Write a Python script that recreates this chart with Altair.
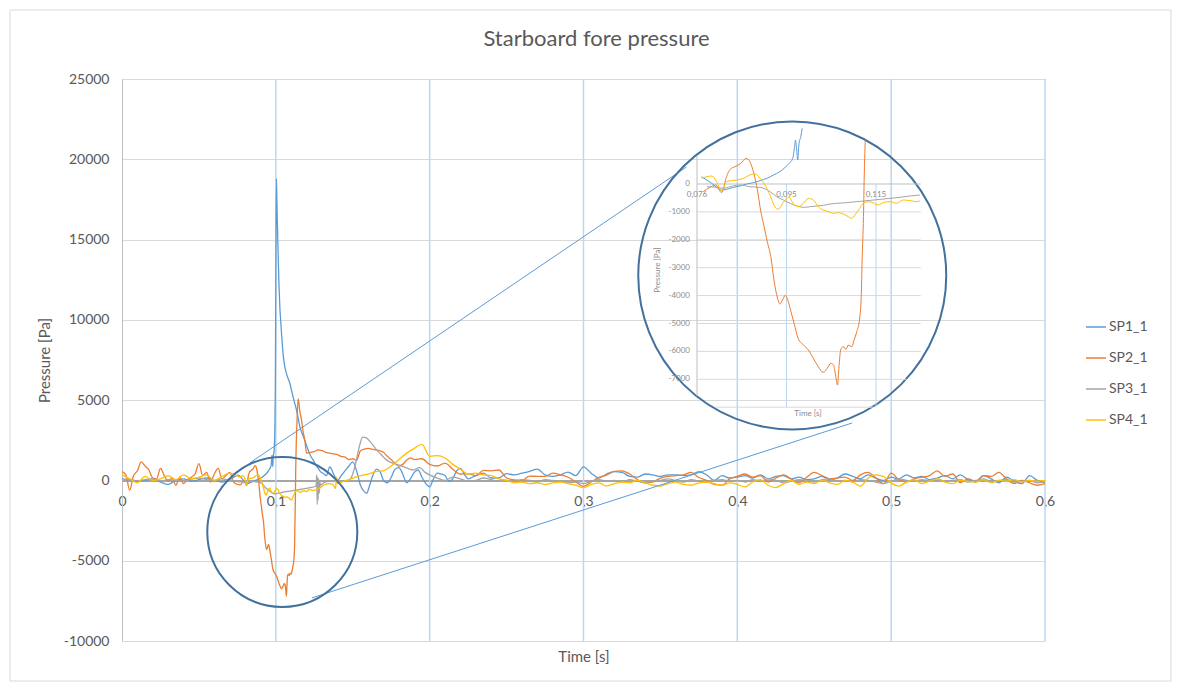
import altair as alt
import pandas as pd

FONT = "Lato"
TEXT = "#595959"

SERIES = ["SP1_1", "SP2_1", "SP3_1", "SP4_1"]
COLORS = ["#5B9BD5", "#ED7D31", "#A5A5A5", "#FFC000"]

# (time [s], pressure [Pa])
SP1 = [
    (0.000, 100), (0.005, 50), (0.010, -50), (0.015, 0), (0.020, 100), (0.025, -100),
    (0.030, -250), (0.035, 0), (0.040, 100), (0.045, -50), (0.050, 50), (0.055, 150),
    (0.060, 0), (0.065, -100), (0.070, 50),
    (0.0754, 323), (0.0765, 263), (0.0777, 143), (0.0788, 24), (0.0799, -120), (0.0810, -215),
    (0.0821, -191), (0.0836, -120), (0.0851, -72), (0.0866, 0), (0.0881, 48), (0.0896, 120),
    (0.0911, 203), (0.0926, 323), (0.0940, 442), (0.0952, 597), (0.0961, 741), (0.0969, 920),
    (0.0973, 1338), (0.0975, 1577), (0.0978, 1159), (0.0980, 860), (0.0983, 1458),
    (0.0987, 1697), (0.0990, 1996),
    (0.0997, 6000), (0.1001, 15000), (0.1004, 18800), (0.1007, 17400), (0.1010, 16000),
    (0.1015, 14100), (0.1020, 12300), (0.1026, 10800), (0.1032, 9900), (0.1037, 9150),
    (0.1042, 8500), (0.1047, 7900), (0.1058, 7100), (0.1069, 6650), (0.1080, 6350),
    (0.1091, 6050), (0.1102, 5600), (0.1112, 5200), (0.1123, 4800), (0.1134, 4400),
    (0.1145, 3900), (0.1156, 3350), (0.1172, 2900), (0.1188, 2500), (0.1210, 1900),
    (0.1225, 1550), (0.1242, 1280), (0.1258, 1000), (0.1275, 760), (0.1290, 550), (0.1307, 450),
    (0.1330, 300), (0.1350, 850), (0.1380, 300), (0.1400, 0), (0.1425, 300), (0.1450, 600),
    (0.1475, 900), (0.1500, 1150), (0.1525, 600), (0.1550, -300), (0.1575, -700), (0.1590, -800),
    (0.1610, -300), (0.1630, 300), (0.1655, 700), (0.1680, 500), (0.1700, 0), (0.1725, -150),
    (0.1750, 200), (0.1775, 700), (0.1800, 800), (0.1825, 400), (0.1850, -150), (0.1875, 100),
    (0.1900, 500), (0.1925, 650), (0.1950, 200), (0.1975, -200), (0.2000, -400), (0.2025, 100),
    (0.2050, 450), (0.2075, 400), (0.2100, 300), (0.2125, -50), (0.2150, 100), (0.2175, 600),
    (0.2200, 750), (0.2225, 400),
    (0.225, 100), (0.230, 300), (0.235, 450), (0.240, 150), (0.245, 150), (0.250, 420),
    (0.255, 350), (0.260, 450), (0.265, 560), (0.270, 700), (0.275, 350), (0.280, 250),
    (0.285, 350), (0.290, 520), (0.295, 300), (0.300, 850), (0.305, 450), (0.310, 150),
    (0.315, 400), (0.320, 550), (0.325, 500), (0.330, 250), (0.335, 200), (0.340, 400),
    (0.345, 350), (0.350, 250), (0.355, 350), (0.360, 350), (0.365, 300), (0.370, 350),
    (0.375, 550), (0.380, 350), (0.385, 0), (0.390, 300), (0.395, 150),
    (0.400, 200), (0.405, 300), (0.410, 150), (0.415, 350), (0.420, 100), (0.425, 250),
    (0.430, 300), (0.435, 100), (0.440, 200), (0.445, 50), (0.450, 100), (0.455, 250),
    (0.460, 50), (0.465, 150), (0.470, 400), (0.475, 250), (0.480, 100), (0.485, 350),
    (0.490, 150), (0.495, 0), (0.500, 200), (0.505, 100), (0.510, 350), (0.515, 150),
    (0.520, 250), (0.525, 50), (0.530, 150), (0.535, 300), (0.540, 100), (0.545, 350),
    (0.550, 50), (0.555, -100), (0.560, 300), (0.565, 100), (0.570, -150), (0.575, 200),
    (0.580, -50), (0.585, -200), (0.590, 300), (0.595, 0), (0.600, -150),
]

SP2 = [
    (0.0000, 550), (0.0025, 350), (0.0050, -600), (0.0075, 300), (0.0100, 600), (0.0125, 1150),
    (0.0150, 900), (0.0175, 650), (0.0200, 150), (0.0225, 100), (0.0250, 750), (0.0275, 300),
    (0.0300, -50), (0.0325, 150), (0.0350, -300), (0.0375, 200), (0.0400, -200), (0.0425, 50),
    (0.0450, 200), (0.0475, 400), (0.0500, 1050), (0.0525, 300), (0.0550, 500), (0.0575, -100),
    (0.0600, 400), (0.0625, 750), (0.0650, 100), (0.0675, 300), (0.0700, 500), (0.0725, -100),
    (0.0750, -250),
    (0.0769, -275), (0.0784, -119), (0.0797, -36), (0.0810, -311), (0.0821, 263), (0.0829, 526),
    (0.0840, 621), (0.0853, 741), (0.0865, 920), (0.0873, 801), (0.0882, 382), (0.0890, -215),
    (0.0897, -932), (0.0905, -1530), (0.0912, -2067), (0.0920, -2605), (0.0927, -3442),
    (0.0935, -4099), (0.0940, -4302), (0.0946, -4159), (0.0952, -3991), (0.0958, -4159),
    (0.0964, -4517), (0.0972, -4995), (0.0981, -5533), (0.0993, -5772), (0.1004, -5951),
    (0.1015, -6250), (0.1026, -6549), (0.1037, -6752), (0.1046, -6608), (0.1054, -6429),
    (0.1060, -6489), (0.1064, -6788), (0.1069, -7206), (0.1072, -6608), (0.1076, -5951),
    (0.1082, -5832), (0.1088, -5927), (0.1093, -5772), (0.1101, -5832), (0.1106, -5593),
    (0.1112, -5294), (0.1118, -4876), (0.1122, -4039), (0.1124, -2725), (0.1127, -1171),
    (0.1129, 502), (0.1131, 1577),
    (0.1137, 3500), (0.1145, 5100), (0.1156, 4300), (0.1167, 3770), (0.1178, 3000),
    (0.1188, 2520), (0.1200, 1700), (0.1225, 1750), (0.1250, 1800), (0.1275, 1900),
    (0.1300, 1850), (0.1325, 1750), (0.1350, 1700), (0.1375, 1650), (0.1400, 1600),
    (0.1425, 1500), (0.1450, 1450), (0.1475, 1300), (0.1500, 1350), (0.1525, 1250),
    (0.1550, 1850), (0.1575, 1950), (0.1600, 2000), (0.1625, 1950), (0.1650, 1900),
    (0.1675, 1850), (0.1700, 1750), (0.1725, 1500), (0.1750, 1300), (0.1775, 1050),
    (0.1800, 900), (0.1825, 1000), (0.1850, 1250), (0.1875, 1400), (0.1900, 1300),
    (0.195, 1350), (0.200, 1000), (0.205, 900), (0.210, 1080), (0.215, 700), (0.220, 400),
    (0.225, 420), (0.230, 300), (0.235, 620), (0.240, 600), (0.245, 650), (0.250, 150),
    (0.255, 30), (0.260, 0), (0.265, 270), (0.270, 250), (0.275, 250), (0.280, 450),
    (0.285, 350), (0.290, 200), (0.295, -100), (0.300, -370), (0.305, -100), (0.310, 190),
    (0.315, 330), (0.320, 560), (0.325, 600), (0.330, 400), (0.335, 50), (0.340, -150),
    (0.345, -100), (0.350, 150), (0.355, 250), (0.360, 300), (0.365, 350), (0.370, 500),
    (0.375, 180), (0.380, 0), (0.385, -250), (0.390, -300), (0.395, 100),
    (0.400, 250), (0.405, 400), (0.410, 200), (0.415, 300), (0.420, -100), (0.425, 150),
    (0.430, 350), (0.435, 100), (0.440, -150), (0.445, 200), (0.450, 500), (0.455, 300),
    (0.460, 100), (0.465, 150), (0.470, 200), (0.475, 0), (0.480, 350), (0.485, 500),
    (0.490, 150), (0.495, -200), (0.500, 450), (0.505, 50), (0.510, -100), (0.515, 100),
    (0.520, 200), (0.525, 300), (0.530, 600), (0.535, 250), (0.540, 400), (0.545, -150),
    (0.550, 100), (0.555, -50), (0.560, 300), (0.565, 250), (0.570, 500), (0.575, 100),
    (0.580, -200), (0.585, 0), (0.590, -150), (0.595, -300), (0.600, -200),
]

SP3 = [
    (0.000, 0), (0.005, 80), (0.010, -30), (0.015, 50), (0.020, 100), (0.025, -50),
    (0.030, 50), (0.035, 0), (0.040, -60), (0.045, 80), (0.050, 150), (0.055, 50),
    (0.060, -50), (0.065, 100), (0.070, 0),
    (0.0754, -72), (0.0777, -96), (0.0799, -120), (0.0814, -155), (0.0829, -96), (0.0851, -36),
    (0.0873, -96), (0.0896, -120), (0.0918, -275), (0.0933, -454), (0.0948, -574),
    (0.0963, -693), (0.0978, -789), (0.0993, -837), (0.1008, -813), (0.1022, -789),
    (0.1037, -765), (0.1052, -717), (0.1067, -693), (0.1089, -669), (0.1112, -633),
    (0.1127, -610), (0.1142, -586), (0.1164, -550), (0.1186, -514), (0.1209, -478),
    (0.1231, -430), (0.1253, -394),
    (0.1262, -300), (0.1266, 350), (0.1269, -1500), (0.1272, 200), (0.1275, -1200),
    (0.1278, 100), (0.1282, -800), (0.1286, -100), (0.1290, -300), (0.1310, -150),
    (0.1350, -50), (0.1400, 0), (0.1450, -50), (0.1480, 50), (0.1500, 400), (0.1520, 1100),
    (0.1540, 2000), (0.1565, 2700), (0.1589, 2650), (0.1610, 2450), (0.1632, 2200),
    (0.1655, 1900), (0.1675, 1700), (0.1700, 1450), (0.1719, 1280), (0.1762, 1070),
    (0.1800, 950), (0.1848, 780), (0.1892, 650), (0.1935, 800), (0.1970, 500), (0.2000, 350),
    (0.205, 150), (0.210, 0), (0.215, 200), (0.220, 100), (0.225, -50), (0.230, 0),
    (0.235, 150), (0.240, 50), (0.245, -50), (0.250, 0), (0.255, -80), (0.260, 50),
    (0.265, 0), (0.270, -100), (0.275, 50), (0.280, 0), (0.285, -50), (0.290, -150),
    (0.295, -100), (0.300, -200), (0.305, -50), (0.310, 50), (0.315, -50), (0.320, 0),
    (0.325, -100), (0.330, 50), (0.335, -50), (0.340, -150), (0.345, -50), (0.350, 0),
    (0.355, 100), (0.360, 0), (0.365, -100), (0.370, 50), (0.375, -50), (0.380, -100),
    (0.385, 0), (0.390, 50), (0.395, -50), (0.400, 0), (0.405, -100), (0.410, 50),
    (0.415, -50), (0.420, 100), (0.425, 0), (0.430, -150), (0.435, -50), (0.440, 50),
    (0.445, 0), (0.450, -100), (0.455, 50), (0.460, 100), (0.465, -50), (0.470, 0),
    (0.475, -100), (0.480, 50), (0.485, 0), (0.490, -100), (0.495, -200), (0.500, -50),
    (0.505, 100), (0.510, 0), (0.515, -50), (0.520, 50), (0.525, 0), (0.530, 100),
    (0.535, -50), (0.540, 0), (0.545, 50), (0.550, -100), (0.555, 0), (0.560, 100),
    (0.565, -50), (0.570, 0), (0.575, 50), (0.580, -100), (0.585, -50), (0.590, 0),
    (0.595, -150), (0.600, -100),
]

SP4 = [
    (0.000, 350), (0.005, 100), (0.010, -150), (0.015, 250), (0.020, 0), (0.025, 100),
    (0.030, 300), (0.035, 50), (0.040, 350), (0.045, 100), (0.050, 200), (0.055, 350),
    (0.060, 0), (0.065, 250), (0.070, 450),
    (0.0754, 263), (0.0765, 203), (0.0777, 263), (0.0788, 287), (0.0799, 84), (0.0810, -275),
    (0.0821, 84), (0.0832, 120), (0.0844, 143), (0.0859, 203), (0.0873, 323), (0.0885, 359),
    (0.0896, 203), (0.0907, -36), (0.0918, -394), (0.0929, -813), (0.0937, -908),
    (0.0944, -753), (0.0952, -574), (0.0961, -478), (0.0970, -693), (0.0981, -813),
    (0.0993, -693), (0.1004, -514), (0.1015, -574), (0.1026, -813), (0.1037, -932),
    (0.1048, -992), (0.1060, -1052), (0.1071, -1028), (0.1082, -1076), (0.1093, -1171),
    (0.1101, -1231), (0.1108, -1111), (0.1116, -932), (0.1127, -693), (0.1138, -633),
    (0.1149, -680), (0.1160, -753), (0.1171, -669), (0.1186, -633), (0.1201, -693),
    (0.1216, -574), (0.1231, -597), (0.1246, -633), (0.1253, -600),
    (0.1280, -500), (0.1310, -300), (0.1340, -200), (0.1370, -250), (0.1388, -500),
    (0.1394, 200), (0.1400, -200), (0.1430, -100), (0.1460, 0), (0.1500, 150), (0.1550, 300),
    (0.1600, 400), (0.1650, 550), (0.1700, 600), (0.1750, 900), (0.1800, 1300),
    (0.1850, 1700), (0.1900, 2000), (0.1950, 2250), (0.2000, 1500),
    (0.205, 1550), (0.210, 1400), (0.215, 1000), (0.220, 700), (0.225, 400), (0.230, 450),
    (0.235, 350), (0.240, 300), (0.245, 100), (0.250, 0), (0.255, -150), (0.260, -100),
    (0.265, -200), (0.270, -150), (0.275, -250), (0.280, -150), (0.285, -100), (0.290, -200),
    (0.295, -300), (0.300, -450), (0.305, -250), (0.310, -150), (0.315, -350), (0.320, -200),
    (0.325, -100), (0.330, -150), (0.335, 0), (0.340, -150), (0.345, -300), (0.350, -350),
    (0.355, -200), (0.360, -100), (0.365, -250), (0.370, -300), (0.375, -150), (0.380, -100),
    (0.385, -200), (0.390, -300), (0.395, -150),
    (0.400, -250), (0.405, -400), (0.410, -100), (0.415, 50), (0.420, -300), (0.425, -450),
    (0.430, -200), (0.435, 0), (0.440, -250), (0.445, -100), (0.450, -200), (0.455, 0),
    (0.460, -150), (0.465, -250), (0.470, 0), (0.475, -100), (0.480, -350), (0.485, 150),
    (0.490, 350), (0.495, 250), (0.500, -150), (0.505, -350), (0.510, -100), (0.515, 50),
    (0.520, -200), (0.525, -50), (0.530, 100), (0.535, -100), (0.540, -200), (0.545, 0),
    (0.550, -50), (0.555, -100), (0.560, 50), (0.565, -150), (0.570, 0), (0.575, -50),
    (0.580, 50), (0.585, -100), (0.590, 0), (0.595, -50), (0.600, 0),
]

X_TICKS = [0, 0.1, 0.2, 0.3, 0.4, 0.5, 0.6]
Y_TICKS = [-10000, -5000, 0, 5000, 10000, 15000, 20000, 25000]

# zoom circles (centre time, centre pressure, diameter px) and connector lines
CIRCLES = [(0.1042, -3207, 150), (0.4357, 12765, 308)]
CONNECTORS = [((0.0831, 1090), (0.3669, 19522)), ((0.1234, -7317), (0.4747, 3580))]

# inset (magnified) chart
INSET_X_DOMAIN = [0.0755, 0.1255]
INSET_Y_DOMAIN = [-8000, 1000]
INSET_X_RANGE = [575, 798.75]
INSET_Y_RANGE = [328.2, 77.1]
INSET_END = {"SP1_1": 0.0990, "SP2_1": 0.1131, "SP3_1": 0.1255, "SP4_1": 0.1255}
INSET_X_TICKS = [0.0755, 0.0955, 0.1155]
INSET_X_LABELS = ["0,076", "0,095", "0,115"]
INSET_Y_TICKS = [0, -1000, -2000, -3000, -4000, -5000, -6000, -7000]
INSET_HGRID = [(-1000, 0.0755, 0.1255), (-2000, 0.0755, 0.1255), (-3000, 0.0755, 0.1255),
               (-4000, 0.0755, 0.1255), (-5000, 0.0755, 0.1255), (-6000, 0.0755, 0.1255),
               (-7000, 0.0755, 0.1223), (-8000, 0.0795, 0.1150)]
INSET_TITLES = [("Pressure [Pa]", 0.0668, -3082, 270), ("Time [s]", 0.1003, -8244, 0)]

# ---------------------------------------------------------------- data frames
rows = []
for name, pts in zip(SERIES, [SP1, SP2, SP3, SP4]):
    for t, p in pts:
        rows.append({"series": name, "t": t, "p": p})
df = pd.DataFrame(rows)
inset_df = df[(df.t >= INSET_X_DOMAIN[0]) & (df.t <= df.series.map(INSET_END))]

vgrid_df = pd.DataFrame({"t": X_TICKS[1:], "p": Y_TICKS[0], "p2": Y_TICKS[-1]})
circ_df = pd.DataFrame(CIRCLES, columns=["t", "p", "d"])
circ_df["s"] = circ_df["d"] ** 2
conn_df = pd.DataFrame([{"t": a[0], "p": a[1], "t2": b[0], "p2": b[1]} for a, b in CONNECTORS])

ihg_df = pd.DataFrame(INSET_HGRID, columns=["p", "t", "t2"])
ivg_df = pd.DataFrame({"t": INSET_X_TICKS[1:], "p": INSET_Y_DOMAIN[0], "p2": 0})
iax_df = pd.DataFrame([{"t": INSET_X_DOMAIN[0], "p": -7600, "p2": INSET_Y_DOMAIN[1]}])
izero_df = pd.DataFrame([{"t": INSET_X_DOMAIN[0], "t2": INSET_X_DOMAIN[1], "p": 0}])
ixl_df = pd.DataFrame({"t": INSET_X_TICKS, "p": 0, "label": INSET_X_LABELS})
iyl_df = pd.DataFrame({"t": INSET_X_DOMAIN[0], "p": INSET_Y_TICKS,
                       "label": [str(v) for v in INSET_Y_TICKS]})
ititle_df = pd.DataFrame(INSET_TITLES, columns=["label", "t", "p", "angle"])

# ---------------------------------------------------------------- main scales
x_axis = alt.Axis(values=X_TICKS, labelExpr="replace(format(datum.value, '.1~f'), '.', ',')",
                  offset=-160.57, grid=False, ticks=False, labelFlush=False,
                  domainColor="#A6A6A6", domainWidth=2, labelPadding=14,
                  labelFontSize=14, labelColor=TEXT, labelFont=FONT,
                  title="Time [s]", titleFont=FONT, titleFontSize=15, titleColor=TEXT,
                  titleFontWeight="normal", titleY=176, titleBaseline="middle")
y_axis = alt.Axis(values=Y_TICKS, labelExpr="'' + datum.value", grid=True,
                  gridColor="#D9D9D9", gridWidth=1,
                  ticks=False, domainColor="#BFBFBF", labelPadding=13,
                  labelFontSize=14, labelColor=TEXT, labelFont=FONT,
                  title="Pressure [Pa]", titleFont=FONT, titleFontSize=15, titleColor=TEXT,
                  titleFontWeight="normal", titleX=-78, titleY=281, titleBaseline="middle")
X = alt.X("t:Q", scale=alt.Scale(domain=[0, 0.6], nice=False, zero=False), axis=x_axis)
Y = alt.Y("p:Q", scale=alt.Scale(domain=[-10000, 25000], nice=False, zero=False), axis=y_axis)
color = alt.Color("series:N", scale=alt.Scale(domain=SERIES, range=COLORS),
                  legend=alt.Legend(orient="none", legendX=963, legendY=237, title=None,
                                    symbolType="stroke", symbolSize=400, symbolStrokeWidth=1.5,
                                    labelFontSize=14, labelColor=TEXT, labelFont=FONT,
                                    rowPadding=13, labelOffset=2))

vgrid = alt.Chart(vgrid_df).mark_rule(color="#BDD7EE", strokeWidth=1.5).encode(
    x=X, y=Y, y2="p2:Q")
lines = alt.Chart(df).mark_line(strokeWidth=1.3, interpolate="monotone").encode(
    x=X, y=Y, color=color, detail="series:N")
circles = alt.Chart(circ_df).mark_point(shape="circle", filled=False, stroke="#41719C",
                                        strokeWidth=2, opacity=1).encode(
    x=X, y=Y, size=alt.Size("s:Q", scale=None, legend=None))
connectors = alt.Chart(conn_df).mark_rule(color="#5B9BD5", strokeWidth=1).encode(
    x=X, y=Y, x2="t2:Q", y2="p2:Q")
frame = alt.Chart(alt.Data(values=[{}])).mark_rect(fill=None, stroke="#D9D9D9",
                                                   strokeWidth=1).encode(
    x=alt.value(-112), x2=alt.value(1049), y=alt.value(-69), y2=alt.value(602))

main = alt.layer(frame, vgrid, lines, connectors, circles)

# ---------------------------------------------------------------- inset scales
IX = alt.X("t:Q", scale=alt.Scale(domain=INSET_X_DOMAIN, range=INSET_X_RANGE, nice=False,
                                  zero=False), axis=None)
IY = alt.Y("p:Q", scale=alt.Scale(domain=INSET_Y_DOMAIN, range=INSET_Y_RANGE, nice=False,
                                  zero=False), axis=None)

i_hgrid = alt.Chart(ihg_df).mark_rule(color="#D9D9D9", strokeWidth=1).encode(
    x=IX, x2="t2:Q", y=IY)
i_vgrid = alt.Chart(ivg_df).mark_rule(color="#BDD7EE", strokeWidth=1).encode(
    x=IX, y=IY, y2="p2:Q")
i_axis = alt.Chart(iax_df).mark_rule(color="#BFBFBF", strokeWidth=1).encode(
    x=IX, y=IY, y2="p2:Q")
i_zero = alt.Chart(izero_df).mark_rule(color="#BFBFBF", strokeWidth=1).encode(
    x=IX, x2="t2:Q", y=IY)
i_lines = alt.Chart(inset_df).mark_line(strokeWidth=1, interpolate="monotone").encode(
    x=IX, y=IY, color=alt.Color("series:N", scale=alt.Scale(domain=SERIES, range=COLORS),
                                legend=None), detail="series:N")
i_xlab = alt.Chart(ixl_df).mark_text(fontSize=8, font=FONT, color="#8C8C8C", dy=11,
                                     align="center", baseline="middle").encode(
    x=IX, y=IY, text="label:N")
i_ylab = alt.Chart(iyl_df).mark_text(fontSize=8, font=FONT, color="#8C8C8C", dx=-7,
                                     align="right", baseline="middle").encode(
    x=IX, y=IY, text="label:N")
i_titles = alt.Chart(ititle_df).mark_text(fontSize=8, font=FONT, color="#8C8C8C",
                                          align="center", baseline="middle").encode(
    x=IX, y=IY, text="label:N", angle=alt.Angle("angle:Q", scale=None))

inset = alt.layer(i_hgrid, i_vgrid, i_axis, i_zero, i_xlab, i_ylab, i_titles, i_lines)

chart = alt.layer(main, inset).resolve_scale(
    x="independent", y="independent", size="independent"
).properties(
    width=923, height=562,
    title=alt.TitleParams("Starboard fore pressure", font=FONT, fontSize=22, color=TEXT,
                          fontWeight="normal", anchor="middle", dx=13, dy=94, offset=31,
                          frame="group", baseline="bottom"),
    autosize=alt.AutoSizeParams(type="none"),
    padding={"left": 122, "top": 79, "right": 136, "bottom": 42},
    background="white",
).configure_view(stroke=None)

chart.save("out.html", embed_options={"renderer": "svg", "actions": False})
